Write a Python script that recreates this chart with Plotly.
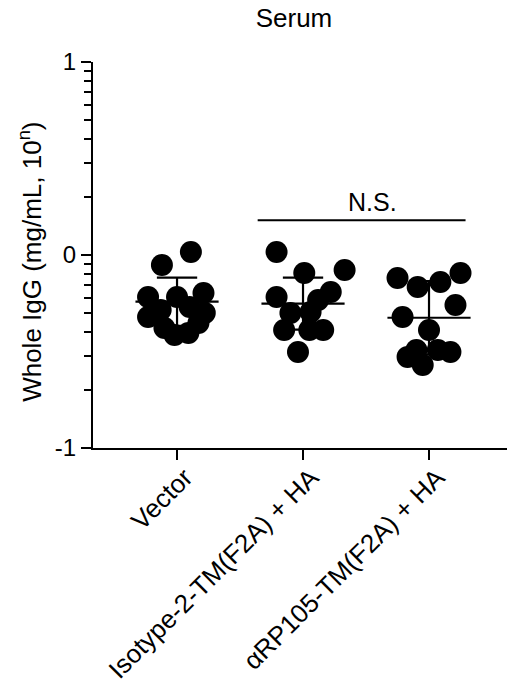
import math
import plotly.graph_objects as go

# ---- data (log10 exponent values) ----
categories = ["Vector", "Isotype-2-TM(F2A) + HA", "αRP105-TM(F2A) + HA"]

vector_y = [0.016, -0.052, -0.218, -0.218, -0.197, -0.321, -0.285, -0.378,
            -0.414, -0.404, -0.352, -0.300, -0.269]
vector_dx = [0.11, -0.12, -0.23, 0.00, 0.21, -0.23, -0.13, -0.10,
             -0.02, 0.09, 0.17, 0.22, 0.10]

isotype_y = [0.016, -0.093, -0.078, -0.218, -0.192, -0.233, -0.301, -0.295,
             -0.389, -0.389, -0.389, -0.503]
isotype_dx = [-0.21, 0.01, 0.33, -0.21, 0.22, 0.12, -0.10, 0.06,
              -0.15, 0.05, 0.16, -0.04]

rp105_y = [-0.119, -0.166, -0.140, -0.093, -0.321, -0.259, -0.389, -0.528,
           -0.492, -0.570, -0.492, -0.503]
rp105_dx = [-0.25, -0.09, 0.09, 0.25, -0.21, 0.21, 0.00, -0.17,
            -0.10, -0.05, 0.07, 0.17]

group_means = [-0.242, -0.252, -0.325]
group_sds = [0.125, 0.135, 0.19]

y_tick_vals = [-1, 0, 1]
y_tick_text = ["-1", "0", "1"]
y_title = "Whole IgG (mg/mL, 10<sup>n</sup>)"

ns_label = "N.S."
ns_y = 0.18
ns_x = [0.64, 2.29]

FONT = "Liberation Sans, Arial, Helvetica, sans-serif"

groups = [(vector_y, vector_dx), (isotype_y, isotype_dx), (rp105_y, rp105_dx)]

fig = go.Figure()

for i, (ys, dxs) in enumerate(groups):
    fig.add_trace(go.Scatter(
        x=[i + d for d in dxs], y=ys, mode="markers",
        marker=dict(color="black", size=22, line=dict(width=0)),
        showlegend=False, cliponaxis=False, hoverinfo="y"))

# mean and SD lines
mean_half = 0.33
cap_half = 0.16
for i, (m, s) in enumerate(zip(group_means, group_sds)):
    xs = [i - mean_half, i + mean_half, None,
          i, i, None,
          i - cap_half, i + cap_half, None,
          i - cap_half, i + cap_half]
    ys = [m, m, None,
          m - s, m + s, None,
          m + s, m + s, None,
          m - s, m - s]
    fig.add_trace(go.Scatter(x=xs, y=ys, mode="lines",
                             line=dict(color="black", width=2.2),
                             showlegend=False, hoverinfo="skip", cliponaxis=False))

# N.S. bracket
fig.add_trace(go.Scatter(x=ns_x, y=[ns_y, ns_y], mode="lines",
                         line=dict(color="black", width=2),
                         showlegend=False, hoverinfo="skip"))
fig.add_annotation(x=sum(ns_x) / 2 + 0.085, y=ns_y + 0.012, text=ns_label,
                   showarrow=False, yanchor="bottom", xanchor="center",
                   font=dict(family=FONT, size=25, color="black"))

# y-axis title
fig.add_annotation(xref="paper", yref="paper", x=-0.15, y=0.482,
                   text=y_title, textangle=-90, showarrow=False,
                   xanchor="center", yanchor="middle",
                   font=dict(family=FONT, size=26, color="black"))

minor_vals = [k + math.log10(j) for k in (-1, 0) for j in range(2, 10)]

fig.update_layout(
    width=507, height=686,
    margin=dict(l=93, r=0, t=62, b=238, autoexpand=False),
    plot_bgcolor="white", paper_bgcolor="white",
    font=dict(family=FONT, color="black"),
    title=dict(text="Serum", x=294 / 507, xanchor="center", xref="container",
               y=1 - 18 / 686, yanchor="middle",
               font=dict(family=FONT, size=26, color="black")),
    xaxis=dict(range=[-0.667, 2.619], tickmode="array", tickvals=[0, 1, 2],
               ticktext=categories, tickangle=-45, automargin=False,
               ticklabelstandoff=-8, ticklabelshift=8,
               ticks="outside", ticklen=10, tickwidth=2, tickcolor="black",
               showline=True, linewidth=2, linecolor="black",
               showgrid=False, zeroline=False,
               tickfont=dict(family=FONT, size=26, color="black")),
    yaxis=dict(range=[-1, 1], tickmode="array", tickvals=y_tick_vals,
               ticktext=y_tick_text, automargin=False,
               ticks="outside", ticklen=10, tickwidth=2, tickcolor="black",
               showline=True, linewidth=2, linecolor="black",
               showgrid=False, zeroline=False,
               tickfont=dict(family=FONT, size=24, color="black"),
               minor=dict(tickmode="array", tickvals=minor_vals, ticks="outside",
                          ticklen=7, tickwidth=2, tickcolor="black", showgrid=False)),
)

fig.write_html("out.html", config={"displayModeBar": False},
               post_script="document.body.style.margin='0';"
                           "document.body.style.overflow='hidden';")
